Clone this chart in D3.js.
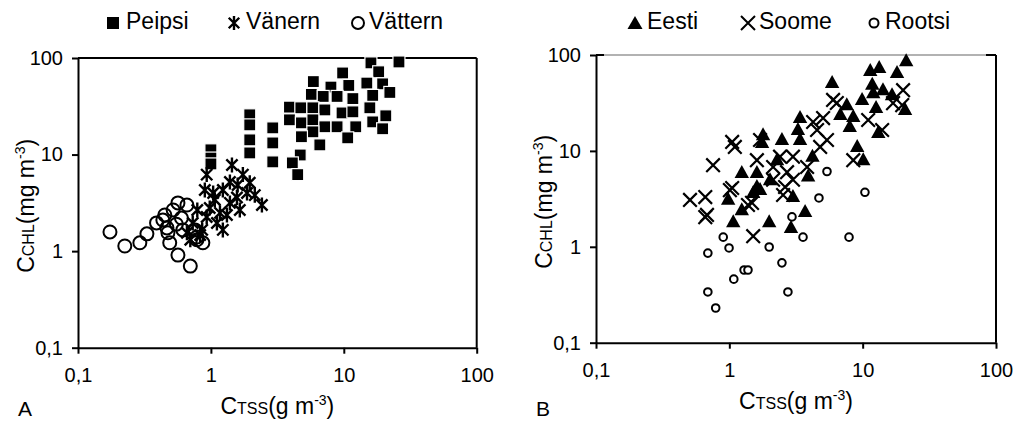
<!DOCTYPE html>
<meta charset="utf-8">
<style>
body { margin: 0; background: #fff; }
svg text { font-family: "Liberation Sans", Arial, sans-serif; fill: #000; }
.axis path, .axis line { stroke: #000; stroke-width: 2px; }
.axis text { font-size: 20px; font-family: "Liberation Sans", Arial, sans-serif; }
</style>
<svg width="1016" height="427"></svg>
<script src="https://cdn.jsdelivr.net/npm/d3@7"></script>
<script>

// panel A: [Ctss, Cchl]
var peipsi = [
  [16,89],[26,91],[18.3,72],[9.8,70],[5.9,57],[8,50],[10.9,52],[14.9,55],[19.6,54],
  [5.7,42],[7,40],[8.9,40],[11.7,38],[16.5,41],[22.2,44],
  [3.9,31],[4.75,30.5],[5.85,30.5],[7.2,29],[9.7,27],[11.7,27.7],[15.7,30.5],
  [3.9,22.9],[4.8,21.3],[5.85,22.9],[7.2,19.4],[8.9,19.4],[12.3,19.4],[16.5,21.8],[20.7,25.2],[19.6,18.5],
  [5.85,17.2],[4.8,15.3],[6.6,12.6],[10.7,14.9],[4.7,9.9],[4.1,8.2],[4.5,6.2],
  [1.96,25.8],[1.96,20.3],[1.96,14.2],[1.96,10.4],[2.92,18.9],[2.92,13.2],[2.92,8.4],
  [1.0,11.2],[1.0,9.2],[1.0,8]
];
var vanern = [
  [1.44,7.8],[0.93,6.2],[2.42,3.0],[1.96,5.1],[1.74,6.2],[1.39,5.2],[1.04,4.0],[1.23,4.3],[1.57,3.6],[1.87,4.0],
  [0.79,2.67],[0.93,2.26],[1.11,1.96],[0.86,1.66],[0.70,1.31],[0.83,1.47],[0.98,2.8],[1.17,2.49],[1.39,3.16],[1.65,2.67],
  [1.23,1.66],[0.73,1.96],[0.66,1.55],[1.07,3.4],[0.90,4.3],[1.32,2.37],[1.59,4.85],[2.14,3.8]
];
var vattern = [
  [0.174,1.58],[0.225,1.13],[0.292,1.22],[0.33,1.51],[0.39,1.96],[0.45,2.37],[0.475,1.55],[0.565,3.16],
  [0.49,1.22],[0.565,0.91],[0.70,0.70],[0.615,1.66],[0.87,1.22],[0.785,1.40],[0.66,3.0],[0.52,2.67],
  [0.435,2.1],[0.467,1.74],[0.76,1.66],[0.785,1.31],[0.60,2.2],[0.55,1.9]
];

// panel B
var eesti = [
  [21.2,86],[11.4,68],[13.3,73],[18.1,65],[5.9,51],[11.8,49],[12.0,40],[14.2,43],[16.6,38],[20.8,26.7],
  [9.9,34],[12.6,28],[7.6,30],[8.5,22.6],[6.8,23.7],[8.0,17.7],[13.1,15.4],[9.1,11],[10.1,8.0],
  [3.39,22],[3.27,16.5],[3.39,13],[4.2,8.7],[2.48,13],[1.79,14.6],[1.76,12.1],[1.24,5.9],[1.61,5.9],
  [1.61,4.2],[1.51,3.65],[2.28,8.0],[3.0,3.3],[3.9,5.4],[3.7,2.3],[0.98,3.1],[1.24,2.4],[1.07,1.8],
  [1.99,1.8],[2.9,1.57],[1.70,3.9],[2.02,4.95]
];
var soome = [
  [20.1,43],[19.8,30],[16.9,31.5],[11.0,21],[14.0,16.5],[8.5,8.0],[6.0,34],[5.05,22],[4.55,16.5],[5.4,13],
  [4.8,11],[3.83,6.8],[3.0,8.7],[3.0,5.0],[2.62,4.2],[2.13,6.8],[1.70,13],[1.61,8.0],[1.05,12.4],[1.10,11],
  [0.755,7.1],[0.507,3.08],[0.66,3.3],[1.01,3.9],[1.48,2.87],[2.71,6.0],[2.40,8.7],
  [0.66,2.04],[0.68,2.15],[1.51,1.29],[1.05,4.1],[1.38,2.73],[2.53,3.47],[2.13,5.0],[4.25,20],[6.4,31.6]
];
var rootsi = [
  [5.4,6.1],[4.7,3.23],[2.95,2.05],[3.57,1.26],[1.99,0.995],[2.48,0.68],[2.75,0.338],[0.90,1.26],
  [0.995,0.973],[0.69,0.86],[1.29,0.573],[1.38,0.573],[1.08,0.46],[0.69,0.338],[0.79,0.23],[7.9,1.26],[10.4,3.7]
];

var tickVals = [0.1, 1, 10, 100];
var tickLabels = ["0,1", "1", "10", "100"];

var svg = d3.select("svg");

// marker path makers
function asterisk(s) {
  var d = s * 0.75;
  return "M" + (-d) + "," + (-d) + "L" + d + "," + d +
         "M" + (-d) + "," + d + "L" + d + "," + (-d) +
         "M0," + (-s) + "L0," + s;
}
function cross(s) {
  return "M" + (-s) + "," + (-s) + "L" + s + "," + s +
         "M" + (-s) + "," + s + "L" + s + "," + (-s);
}

function drawMarker(g, kind) {
  if (kind == "square") {
    g.append("rect").attr("x", -6).attr("y", -6).attr("width", 12).attr("height", 12)
      .attr("fill", "#000").attr("stroke", "#fff").attr("stroke-width", 1.2);
  } else if (kind == "asterisk") {
    g.append("path").attr("d", asterisk(7.5)).attr("stroke", "#000").attr("stroke-width", 2.4).attr("fill", "none");
  } else if (kind == "circle") {
    g.append("circle").attr("r", 6.5).attr("fill", "none").attr("stroke", "#000").attr("stroke-width", 2);
  } else if (kind == "triangle") {
    g.append("path").attr("d", "M0,-8L7.2,5L-7.2,5Z").attr("fill", "#000");
  } else if (kind == "cross") {
    g.append("path").attr("d", cross(6.8)).attr("stroke", "#000").attr("stroke-width", 2.2).attr("fill", "none");
  } else if (kind == "small") {
    g.append("circle").attr("r", 3.8).attr("fill", "#fff").attr("stroke", "#000").attr("stroke-width", 2);
  }
}

function panel(box, series, legend, letter, grayTop) {
  var x = d3.scaleLog().domain([0.1, 100]).range([box.left, box.right]);
  var y = d3.scaleLog().domain([0.1, 100]).range([box.bottom, box.top]);

  // frame
  if (grayTop) {
    svg.append("line").attr("x1", box.left).attr("x2", box.right).attr("y1", box.top).attr("y2", box.top)
      .attr("stroke", "#666").attr("stroke-width", 1.2);
    svg.append("line").attr("x1", box.right - 10).attr("x2", box.right).attr("y1", box.top).attr("y2", box.top)
      .attr("stroke", "#000").attr("stroke-width", 2);
    svg.append("line").attr("x1", box.left).attr("x2", box.left + 8).attr("y1", box.top).attr("y2", box.top)
      .attr("stroke", "#000").attr("stroke-width", 2);
  } else {
    svg.append("line").attr("x1", box.left).attr("x2", box.right).attr("y1", box.top).attr("y2", box.top)
      .attr("stroke", "#000").attr("stroke-width", 2);
  }
  svg.append("line").attr("x1", box.right).attr("x2", box.right).attr("y1", box.top).attr("y2", box.bottom)
    .attr("stroke", "#000").attr("stroke-width", 2);

  // points
  series.forEach(function(s) {
    svg.append("g").selectAll("g")
      .data(s.data)
      .enter().append("g")
        .attr("transform", function(d) { return "translate(" + x(d[0]) + "," + y(d[1]) + ")"; })
        .each(function() { drawMarker(d3.select(this), s.kind); });
  });

  // axes
  svg.append("g").attr("class", "axis")
      .attr("transform", "translate(0," + box.bottom + ")")
      .call(d3.axisBottom(x).tickValues(tickVals).tickSize(6).tickSizeOuter(0).tickPadding(14)
        .tickFormat(function(d, i) { return tickLabels[i]; }));
  svg.append("g").attr("class", "axis")
      .attr("transform", "translate(" + box.left + ",0)")
      .call(d3.axisLeft(y).tickValues(tickVals).tickSize(6).tickSizeOuter(0).tickPadding(9)
        .tickFormat(function(d, i) { return tickLabels[i]; }));
  svg.selectAll(".axis text").attr("fill", "#000");

  // axis titles
  var cx = (box.left + box.right) / 2;
  var xt = svg.append("text").attr("x", cx).attr("y", box.bottom + 66)
      .attr("text-anchor", "middle").attr("font-size", 23);
  xt.append("tspan").text("C");
  xt.append("tspan").attr("font-size", 16).text("TSS");
  xt.append("tspan").text("(g m");
  xt.append("tspan").attr("font-size", 14).attr("dy", -9).text("-3");
  xt.append("tspan").attr("dy", 9).text(")");

  var cy = (box.top + box.bottom) / 2 + 3;
  var yt = svg.append("text")
      .attr("transform", "translate(" + (box.left - 44) + "," + cy + ") rotate(-90)")
      .attr("text-anchor", "middle").attr("font-size", 23);
  yt.append("tspan").text("C");
  yt.append("tspan").attr("font-size", 16).text("CHL");
  yt.append("tspan").text("(mg m");
  yt.append("tspan").attr("font-size", 14).attr("dy", -9).text("-3");
  yt.append("tspan").attr("dy", 9).text(")");

  // panel letter
  svg.append("text").attr("x", box.left - 60).attr("y", 416).attr("font-size", 21).text(letter);

  // legend
  legend.forEach(function(l) {
    var g = svg.append("g").attr("transform", "translate(" + l.mx + ",22)");
    if (l.kind == "square") {
      g.append("rect").attr("x", -6.5).attr("y", -5).attr("width", 12).attr("height", 12).attr("fill", "#000");
    } else if (l.kind == "circle") {
      g.append("circle").attr("cy", 1).attr("r", 6).attr("fill", "none").attr("stroke", "#000").attr("stroke-width", 2);
    } else if (l.kind == "small") {
      g.append("circle").attr("cy", 1).attr("r", 4.5).attr("fill", "none").attr("stroke", "#000").attr("stroke-width", 2);
    } else if (l.kind == "asterisk") {
      g.append("path").attr("transform", "translate(0,1)").attr("d", asterisk(7)).attr("stroke", "#000").attr("stroke-width", 2.4);
    } else if (l.kind == "cross") {
      g.append("path").attr("transform", "translate(0,1)").attr("d", cross(7)).attr("stroke", "#000").attr("stroke-width", 2);
    } else if (l.kind == "triangle") {
      g.append("path").attr("d", "M0,-6L7.5,7L-7.5,7Z").attr("fill", "#000");
    }
    svg.append("text").attr("x", l.tx).attr("y", 29).attr("font-size", 23).text(l.name);
  });
}

panel({left: 78, right: 476.7, top: 58, bottom: 347.7},
  [{data: peipsi, kind: "square"}, {data: vanern, kind: "asterisk"}, {data: vattern, kind: "circle"}],
  [{name: "Peipsi", kind: "square", mx: 113.5, tx: 126},
   {name: "Vänern", kind: "asterisk", mx: 234, tx: 246},
   {name: "Vättern", kind: "circle", mx: 358, tx: 369}],
  "A", false);

panel({left: 596, right: 996, top: 55, bottom: 342.7},
  [{data: eesti, kind: "triangle"}, {data: soome, kind: "cross"}, {data: rootsi, kind: "small"}],
  [{name: "Eesti", kind: "triangle", mx: 635, tx: 647},
   {name: "Soome", kind: "cross", mx: 748, tx: 759},
   {name: "Rootsi", kind: "small", mx: 874, tx: 885}],
  "B", true);

</script>
